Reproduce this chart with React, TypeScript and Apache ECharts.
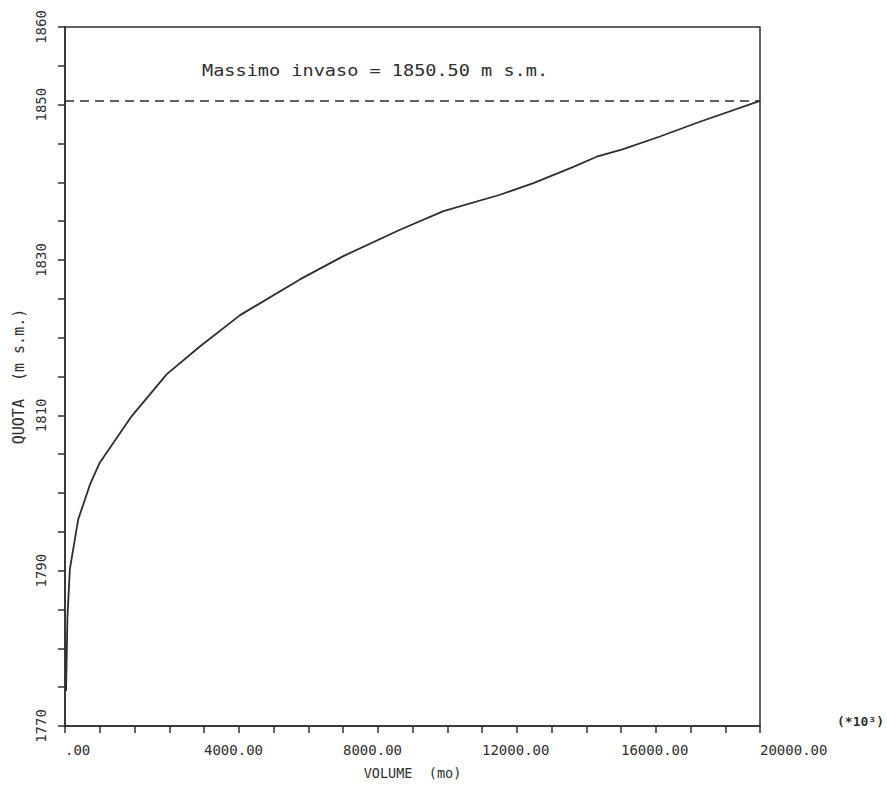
import React, { useEffect, useRef } from "react";
import * as echarts from "echarts";

const volume = [30, 70, 140, 380, 720, 1000, 1920, 2930, 3890, 5040, 6760, 8010, 9640, 10890, 12520, 13480, 14630, 15300, 16020, 17120, 18270, 20000];
const quota = [1774.5, 1784, 1790.2, 1796.6, 1801.1, 1803.9, 1809.9, 1815.3, 1818.9, 1822.9, 1827.5, 1830.5, 1833.9, 1836.3, 1838.4, 1839.9, 1842.0, 1843.3, 1844.2, 1845.9, 1847.8, 1850.5];
const yLabels = [1770, 1790, 1810, 1830, 1850, 1860];
const xLabels = [0, 4000, 8000, 12000, 16000, 20000];
const maxInvaso = 1850.5;
const titleText = "Massimo invaso = 1850.50 m s.m.";

const FONT = "DejaVu Sans Mono";
const INK = "#2e2e2e";

export default function App() {
  const ref = useRef<HTMLDivElement>(null);
  useEffect(() => {
    if (!ref.current) return;
    const chart = echarts.init(ref.current, undefined, { renderer: "svg" });
    chart.setOption({
      animation: false,
      backgroundColor: "#ffffff",
      grid: {
        left: 65,
        top: 27,
        right: 127,
        bottom: 58,
        show: true,
        borderColor: INK,
        borderWidth: 1.5,
        backgroundColor: "transparent",
      },
      xAxis: {
        type: "value",
        min: 0,
        max: 20000,
        interval: 1000,
        name: "VOLUME  (mo)",
        nameLocation: "middle",
        nameGap: 40,
        nameTextStyle: { fontFamily: FONT, fontSize: 13.5, color: INK },
        axisLine: { show: true, lineStyle: { color: INK, width: 1.5 } },
        axisTick: { show: true, length: 7, lineStyle: { color: INK, width: 1.5 } },
        splitLine: { show: false },
        axisLabel: {
          margin: 17,
          align: "left",
          fontFamily: FONT,
          fontSize: 14,
          color: INK,
          showMinLabel: true,
          showMaxLabel: true,
          formatter: (v: number) => {
            if (!xLabels.includes(v)) return "";
            return v === 0 ? ".00" : v.toFixed(2);
          },
        },
      },
      yAxis: {
        type: "value",
        min: 1770,
        max: 1860,
        interval: 5,
        name: "QUOTA  (m s.m.)",
        nameLocation: "middle",
        nameRotate: 90,
        nameGap: 39,
        nameTextStyle: { fontFamily: FONT, fontSize: 15, color: INK },
        axisLine: { show: true, lineStyle: { color: INK, width: 1.5 } },
        axisTick: { show: true, length: 7, lineStyle: { color: INK, width: 1.5 } },
        splitLine: { show: false },
        axisLabel: {
          margin: 17,
          rotate: 90,
          fontFamily: FONT,
          fontSize: 14,
          color: INK,
          showMinLabel: true,
          showMaxLabel: true,
          formatter: (v: number) => (yLabels.includes(v) ? String(v) : ""),
        },
      },
      series: [
        {
          type: "line",
          data: volume.map((v, i) => [v, quota[i]]),
          showSymbol: false,
          smooth: false,
          lineStyle: { color: INK, width: 1.8 },
          markLine: {
            silent: true,
            symbol: "none",
            label: { show: false },
            lineStyle: { color: INK, width: 1.5, type: [9, 6] },
            data: [{ yAxis: maxInvaso }],
          },
        },
      ],
      graphic: [
        {
          type: "text",
          x: 202,
          y: 62,
          scaleX: 1.16,
          style: {
            text: titleText,
            fontFamily: FONT,
            fontSize: 16,
            fill: INK,
          },
        },
        {
          type: "text",
          x: 837,
          y: 715,
          style: {
            text: "(*10³)",
            fontFamily: FONT,
            fontSize: 13,
            fontWeight: "bold",
            fill: INK,
          },
        },
      ],
    });
    return () => chart.dispose();
  }, []);
  return (
    <div
      ref={ref}
      style={{ position: "fixed", left: 0, top: 0, width: 887, height: 785 }}
    />
  );
}
